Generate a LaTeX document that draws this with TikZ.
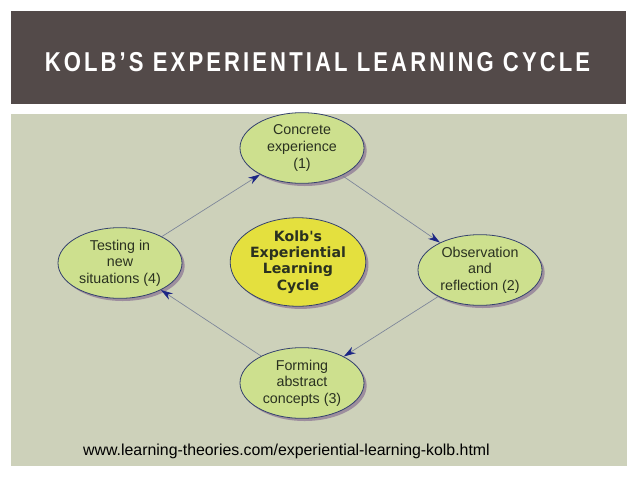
\documentclass[tikz,border=0pt]{standalone}
\usepackage{fontspec}
\setmainfont{Liberation Sans}
\newfontfamily\hubfont{DejaVu Sans}
\usepackage{graphicx}
\usetikzlibrary{arrows.meta,shapes.geometric,shadows}
\definecolor{barbrown}{HTML}{534A49}
\definecolor{panelsage}{HTML}{CDD1BA}
\definecolor{phasegreen}{HTML}{CDE08E}
\definecolor{hubyellow}{HTML}{E4E03E}
\definecolor{rimnavy}{HTML}{34416E}
\definecolor{shadowmauve}{HTML}{9D8E9E}
\definecolor{tipnavy}{HTML}{1B2585}
\definecolor{stemgray}{HTML}{7C8599}
\definecolor{inkolive}{HTML}{2A3120}

\begin{document}
\begin{tikzpicture}[x=0.75pt, y=-0.75pt,
  phase/.style={ellipse, draw=rimnavy, line width=0.6pt, fill=#1, align=center,
                text=inkolive, inner sep=0pt, minimum width=93pt, minimum height=53pt,
                font=\fontsize{10.7}{12.4}\selectfont,
                drop shadow={shadow xshift=2pt, shadow yshift=-2pt, fill=shadowmauve, opacity=1}},
  phase/.default=phasegreen,
  cycarrow/.style={draw=stemgray, line width=0.5pt,
                   -{Stealth[length=9pt, width=5.5pt, color=tipnavy]}}]
  \useasboundingbox (0,0) rectangle (638,479);
  \fill[white] (0,0) rectangle (638,479);
  \fill[barbrown] (11,11) rectangle (626,104);
  \fill[panelsage] (11,114) rectangle (627,466);
  \node[text=white, inner sep=0pt] (title) at (317.5,62.5)
    {\resizebox{409pt}{14.3pt}{\bfseries\addfontfeature{LetterSpace=14}KOLB’S EXPERIENTIAL LEARNING CYCLE}};
  \node[phase] (concrete) at (302,148) {Concrete\\experience\\(1)};
  \node[phase] (reflect) at (480,270) {Observation\\and\\reflection (2)};
  \node[phase] (abstract) at (302,383) {Forming\\abstract\\concepts (3)};
  \node[phase] (testing) at (120,263) {Testing in\\new\\situations (4)};
  \node[phase=hubyellow, minimum height=57pt, font=\hubfont\fontsize{10.6}{12.2}\selectfont\bfseries]
    (kolb) at (298,262) {Kolb's\\Experiential\\Learning\\Cycle};
  \draw[cycarrow] (concrete) -- (reflect);
  \draw[cycarrow] (reflect) -- (abstract);
  \draw[cycarrow] (abstract) -- (testing);
  \draw[cycarrow] (testing) -- (concrete);
  \node[anchor=base, inner sep=0pt, text=black, font=\fontsize{11.9}{14}\selectfont]
    (source) at (286.5,455) {www.learning-theories.com/experiential-learning-kolb.html};
\end{tikzpicture}
\end{document}
